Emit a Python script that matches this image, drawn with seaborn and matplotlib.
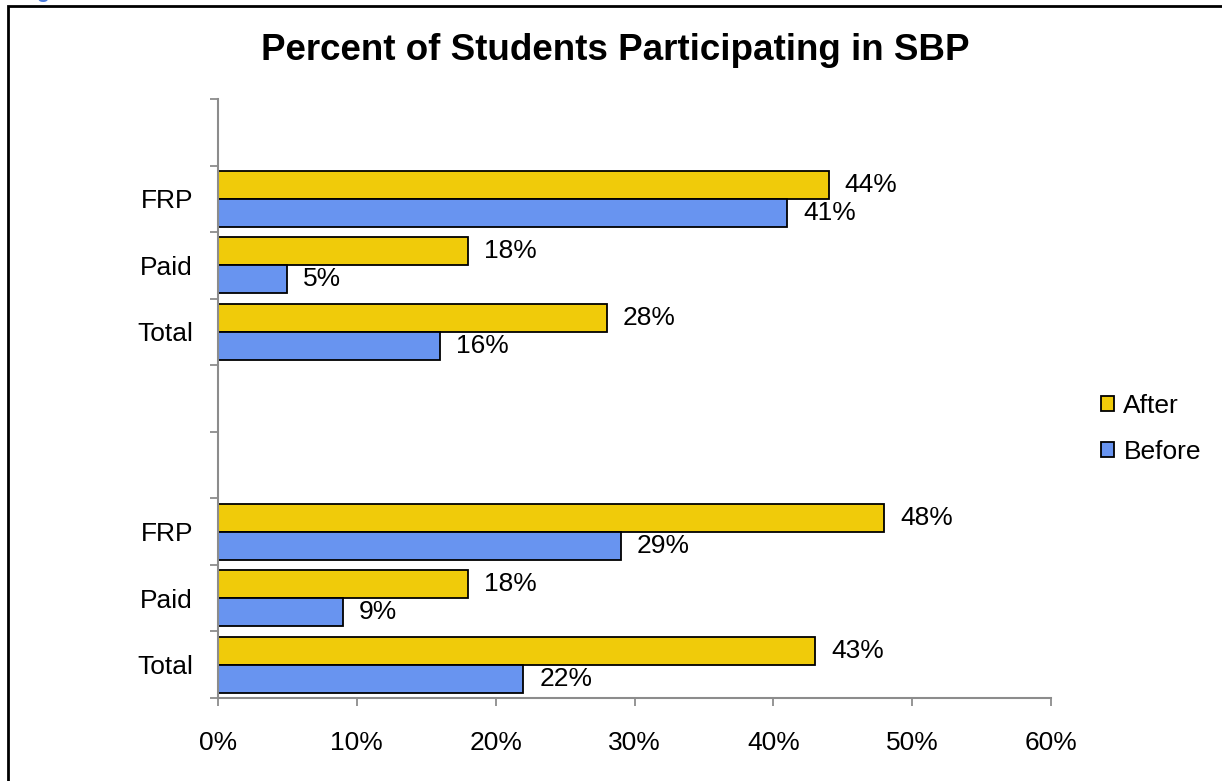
"""Bar chart: percent of students participating in SBP, before and after."""

import matplotlib.pyplot as plt
import numpy as np
import pandas as pd
import seaborn as sns
from matplotlib.patches import Rectangle

# one key per category slot, blanks are the empty slots in the chart
rows = ["blank_1", "FRP_a", "Paid_a", "Total_a", "blank_2", "blank_3", "FRP_b", "Paid_b", "Total_b"]
row_labels = ["", "FRP", "Paid", "Total", "", "", "FRP", "Paid", "Total"]
after = [np.nan, 44, 18, 28, np.nan, np.nan, 48, 18, 43]
before = [np.nan, 41, 5, 16, np.nan, np.nan, 29, 9, 22]
periods = ["After", "Before"]
x_ticks = [0, 10, 20, 30, 40, 50, 60]

COLORS = {"After": "#F0CB0A", "Before": "#6894F0"}
AXIS_GRAY = "#8C8C8C"
FONT_SIZE = 19


def build_frame() -> pd.DataFrame:
    """Long-form table for seaborn."""
    return pd.concat(
        [
            pd.DataFrame({"row": rows, "period": "After", "percent": after}),
            pd.DataFrame({"row": rows, "period": "Before", "percent": before}),
        ],
        ignore_index=True,
    )


def main() -> None:
    sns.set_theme(style="white")
    plt.rcParams["font.family"] = ["Liberation Sans", "DejaVu Sans"]
    plt.rcParams["text.color"] = "black"
    plt.rcParams["xtick.labelcolor"] = "black"
    plt.rcParams["ytick.labelcolor"] = "black"

    data = build_frame()
    fig = plt.figure(figsize=(12.22, 7.81), dpi=100)
    ax = fig.add_axes([218 / 1222, 1 - 698 / 781, (1051 - 218) / 1222, (698 - 99) / 781])

    sns.barplot(
        data=data,
        x="percent",
        y="row",
        hue="period",
        order=rows,
        hue_order=periods,
        palette=COLORS,
        saturation=1,
        width=0.84,
        edgecolor="black",
        linewidth=1.3,
        ax=ax,
    )

    for container in ax.containers:
        labels = [f"{v:.0f}%" for v in container.datavalues]
        ax.bar_label(container, labels=labels, padding=11.5, fontsize=FONT_SIZE, color="black")

    ax.set_xlim(0, 60)
    ax.set_ylim(8.5, -0.5)
    ax.set_xticks(x_ticks)
    ax.set_xticklabels([f"{t}%" for t in x_ticks], fontsize=FONT_SIZE)
    ax.set_yticks(range(len(rows)))
    ax.set_yticklabels(row_labels, fontsize=FONT_SIZE)
    ax.set_yticks(np.arange(-0.5, len(rows)), minor=True)
    ax.tick_params(axis="y", which="major", left=False, length=0, pad=18)
    ax.tick_params(axis="y", which="minor", left=True, length=6, width=1.3,
                   color=AXIS_GRAY, direction="out")
    ax.tick_params(axis="x", length=6, width=1.3, color=AXIS_GRAY, direction="out",
                   pad=18, bottom=True)
    ax.set_xlabel("")
    ax.set_ylabel("")

    sns.despine(ax=ax)
    for side in ["left", "bottom"]:
        ax.spines[side].set_color(AXIS_GRAY)
        ax.spines[side].set_linewidth(1.5)

    ax.legend(
        loc="center left",
        bbox_to_anchor=(1101 / 1222, 1 - 429 / 781),
        bbox_transform=fig.transFigure,
        frameon=False,
        fontsize=FONT_SIZE,
        handlelength=0.5,
        handleheight=0.5,
        handletextpad=0.35,
        labelspacing=0.85,
        borderaxespad=0,
        borderpad=0,
    )

    fig.text(615 / 1222, 1 - 50 / 781, "Percent of Students Participating in SBP",
             ha="center", va="center", fontsize=26.5, fontweight="bold", color="black")

    # outer chart border, cut off at right and bottom edges
    fig.patches.append(
        Rectangle((8 / 1222, -0.05), 1.1, 1 - 6 / 781 + 0.05, transform=fig.transFigure,
                  fill=False, edgecolor="black", linewidth=2, clip_on=False)
    )
    # cut-off caption fragment at top-left corner
    fig.text(36 / 1222, 1 + 8 / 781, "g", color="#4A7BDC", fontsize=15, fontweight="bold",
             ha="left", va="center")

    fig.savefig("out.png", dpi=100)
    plt.close(fig)


if __name__ == "__main__":
    main()
